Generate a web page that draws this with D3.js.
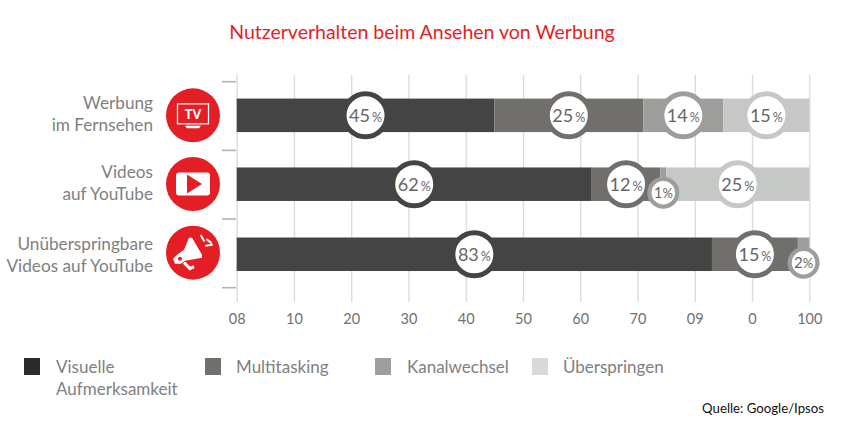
<!DOCTYPE html>
<html lang="de">
<head>
<meta charset="utf-8">
<title>Nutzerverhalten beim Ansehen von Werbung</title>
<script src="https://cdn.jsdelivr.net/npm/d3@7"></script>
<style>
  html, body { margin: 0; padding: 0; background: #fff; }
  svg { display: block; font-family: Lato, sans-serif; }
</style>
</head>
<body>
<div id="chart"></div>
<script>
//<<< Data >>>
const seriesNames = ["Visuelle Aufmerksamkeit", "Multitasking", "Kanalwechsel", "Überspringen"];
const rowKeys = ["tv", "youtube", "skip"];
const rowLines = [["Werbung", "im Fernsehen"], ["Videos", "auf YouTube"], ["Unüberspringbare", "Videos auf YouTube"]];

// drawn segment lengths
const tvWidths = [45, 26, 14, 15];
const youtubeWidths = [62, 12, 1, 25];
const skipWidths = [83, 15, 2];

// printed numbers on the rings (the 25 on the first bar really sits on a 26 wide segment)
const tvLabels = [45, 25, 14, 15];
const youtubeLabels = [62, 12, 1, 25];
const skipLabels = [83, 15, 2];

// printed like this in the source picture
const tickValues = [0, 10, 20, 30, 40, 50, 60, 70, 80, 90, 100];
const tickLabels = ["08", "10", "20", "30", "40", "50", "60", "70", "09", "0", "100"];

//<<< Setup >>>
const barColors = ["#444444", "#706f6c", "#9d9d9c", "#c6c8c6"];
const legendColors = ["#2b2b2b", "#706f6c", "#9d9d9c", "#d9d9d9"];
const textGrey = "#808080";
const red = "#e31e24";

const svg = d3.select("#chart").append("svg")
  .attr("width", 845)
  .attr("height", 435);

const x = d3.scaleLinear().domain([0, 100]).range([236.7, 809.3]);
const y = d3.scaleBand().domain(rowKeys).range([81.7, 287.7]);
const barHeight = 33.5;
// the rows are not quite evenly spaced in the picture
const rowNudge = { tv: -0.7, youtube: -0.5, skip: 0.9 };
const labelNudge = { tv: 0, youtube: 0, skip: 2.2 };
const centerOf = k => y(k) + y.bandwidth() / 2 + rowNudge[k];

svg.append("text")
  .attr("x", 422).attr("y", 38.5)
  .attr("text-anchor", "middle")
  .attr("fill", red)
  .style("font-size", "19.5px")
  .text("Nutzerverhalten beim Ansehen von Werbung");

//<<< Axes >>>
const xAxis = svg.append("g")
  .attr("transform", "translate(0,302)")
  .call(d3.axisBottom(x)
    .tickValues(tickValues)
    .tickSize(227)
    .tickFormat((d, i) => tickLabels[i]));
xAxis.select(".domain").remove();
xAxis.selectAll(".tick line")
  .attr("y2", -227)
  .attr("stroke", "#dcdcdc")
  .attr("stroke-width", 1.4);
xAxis.selectAll(".tick text")
  .attr("y", 22)
  .attr("dy", 0)
  .attr("fill", "#6f6f6f")
  .style("font-size", "14.5px")
  .style("font-family", "Lato, sans-serif");

// little ticks between the rows, band edges not band centres
const edges = rowKeys.map(k => y(k)).concat([y.range()[1]]);
svg.append("g").selectAll("line")
  .data(edges)
  .enter()
  .append("line")
  .attr("x1", 222).attr("x2", 236)
  .attr("y1", d => d).attr("y2", d => d)
  .attr("stroke", "#b2b2b2")
  .attr("stroke-width", 1.6);

//<<< Bars >>>
function stackRow(key, widths, labels) {
  let start = 0;
  return widths.map(function(w, i) {
    const seg = { key: key, i: i, start: start, width: w, label: labels[i] };
    start += w;
    return seg;
  });
}
const segments = [
  ...stackRow("tv", tvWidths, tvLabels),
  ...stackRow("youtube", youtubeWidths, youtubeLabels),
  ...stackRow("skip", skipWidths, skipLabels)
];

svg.append("g").selectAll("rect")
  .data(segments)
  .enter()
  .append("rect")
  .attr("x", d => x(d.start))
  .attr("y", d => centerOf(d.key) - barHeight / 2)
  .attr("width", d => x(d.start + d.width) - x(d.start))
  .attr("height", barHeight)
  .attr("fill", d => barColors[d.i]);

//<<< Rings >>>
const isSmall = d => d.width < 5;
const ringX = d => x(d.start + d.width / 2);
const ringY = d => centerOf(d.key) + (isSmall(d) ? 8.5 : 0);

const rings = svg.append("g").selectAll("g")
  .data(segments)
  .enter()
  .append("g")
  .attr("transform", d => "translate(" + ringX(d) + "," + ringY(d) + ")");

rings.append("circle")
  .attr("r", d => isSmall(d) ? 13.9 : 21.5)
  .attr("fill", "#fff")
  .attr("stroke", d => barColors[d.i])
  .attr("stroke-width", d => isSmall(d) ? 4.3 : 5);

const ringText = rings.append("text")
  .attr("text-anchor", "middle")
  .attr("y", d => isSmall(d) ? 5.5 : 6.5)
  .attr("fill", "#666");
ringText.append("tspan")
  .style("font-size", d => isSmall(d) ? "15px" : "18px")
  .text(d => d.label);
ringText.append("tspan")
  .attr("dx", d => isSmall(d) ? 0 : 2)
  .style("font-size", d => isSmall(d) ? "13px" : "12.5px")
  .text("%");

//<<< Row labels >>>
const rowText = svg.append("g").selectAll("text")
  .data(rowKeys)
  .enter()
  .append("text")
  .attr("text-anchor", "end")
  .attr("fill", textGrey)
  .style("font-size", "17.2px");
rowText.selectAll("tspan")
  .data((k, i) => rowLines[i].map((line, j) => ({ key: k, line: line, j: j })))
  .enter()
  .append("tspan")
  .attr("x", 153)
  .attr("y", d => centerOf(d.key) + labelNudge[d.key] - 6 + d.j * 21.5)
  .text(d => d.line);

//<<< Icons >>>
const icons = svg.append("g").selectAll("g")
  .data(rowKeys)
  .enter()
  .append("g")
  .attr("transform", k => "translate(193," + (y(k) + y.bandwidth() / 2 - 0.7) + ")");
icons.append("circle").attr("r", 27).attr("fill", red);

const tv = icons.filter(k => k === "tv");
tv.append("rect")
  .attr("x", -15.5).attr("y", -11.5).attr("width", 31).attr("height", 20)
  .attr("fill", "none").attr("stroke", "#fff").attr("stroke-width", 1.3);
tv.append("path").attr("d", "M-8 10.5h16l-2 2.5h-12z").attr("fill", "#fff");
tv.append("text")
  .attr("text-anchor", "middle").attr("y", 3.5)
  .attr("fill", "#fff")
  .style("font-size", "12.5px").style("font-weight", "900")
  .text("TV");

const yt = icons.filter(k => k === "youtube");
yt.append("rect")
  .attr("x", -17).attr("y", -11.5).attr("width", 34).attr("height", 23).attr("rx", 3)
  .attr("fill", "#fff");
yt.append("path").attr("d", "M-6 -9.5L9 0L-6 9.5z").attr("fill", red);

const horn = icons.filter(k => k === "skip");
horn.append("path")
  .attr("d", "M-4 -15L-1 -15L9 2L9 5L-8 8L-12 11L-18 11L-20 6L-16 2L-9 -3z")
  .attr("fill", "#fff");
horn.append("path")
  .attr("d", "M-9 10L-3 16L1 14")
  .attr("fill", "none").attr("stroke", "#fff").attr("stroke-width", 3);
horn.append("circle").attr("cx", -13).attr("cy", 6).attr("r", 2).attr("fill", red);
horn.append("path")
  .attr("d", "M8 -17L11 -12M14 -13L18 -10M13 -7L19 -8")
  .attr("stroke", "#fff").attr("stroke-width", 2).attr("stroke-linecap", "round");

//<<< Legend >>>
const legendSquareX = [24, 205, 375, 532];
const legendTextX = [56, 236, 407, 563];
const legendLines = [["Visuelle", "Aufmerksamkeit"], ["Multitasking"], ["Kanalwechsel"], ["Überspringen"]];

const legend = svg.append("g").selectAll("g")
  .data(seriesNames)
  .enter()
  .append("g");
legend.append("rect")
  .attr("x", (d, i) => legendSquareX[i])
  .attr("y", 358)
  .attr("width", 16).attr("height", 17)
  .attr("fill", (d, i) => legendColors[i]);
legend.each(function(d, i) {
  d3.select(this).selectAll("text")
    .data(legendLines[i])
    .enter()
    .append("text")
    .attr("x", legendTextX[i])
    .attr("y", (line, j) => 373 + j * 22)
    .attr("fill", textGrey)
    .style("font-size", "17px")
    .text(line => line);
});

svg.append("text")
  .attr("x", 824).attr("y", 412.5)
  .attr("text-anchor", "end")
  .attr("fill", "#111")
  .style("font-size", "13.2px")
  .text("Quelle: Google/Ipsos");
</script>
</body>
</html>
